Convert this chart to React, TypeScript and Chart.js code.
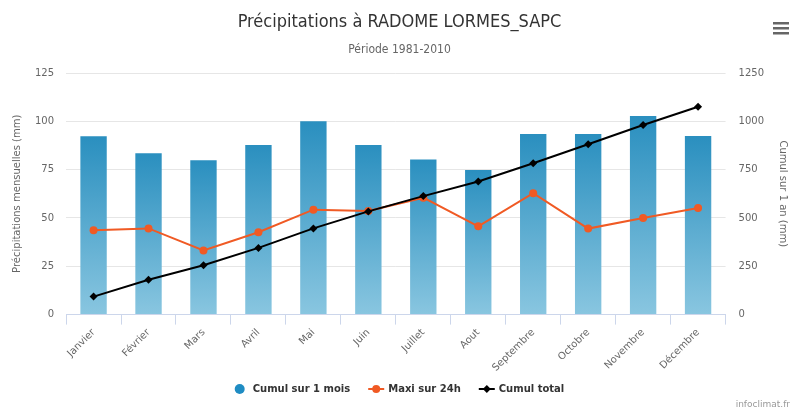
import React, { useEffect, useRef } from "react";
import { Chart, registerables } from "chart.js";

Chart.register(...registerables);

const months = ["Janvier", "Février", "Mars", "Avril", "Mai", "Juin", "Juillet", "Aout", "Septembre", "Octobre", "Novembre", "Décembre"];
const cumulMois = [92.3, 83.5, 79.9, 87.8, 100.0, 87.8, 80.3, 74.8, 93.4, 93.4, 102.8, 92.4];
const maxi24h = [43.6, 44.6, 33.2, 42.6, 54.3, 53.6, 60.5, 45.7, 62.8, 44.5, 50.0, 55.2];
const cumulTotal = [93, 180, 255, 345, 446, 534, 613, 689, 783, 881, 981, 1075];

const TITLE = "Précipitations à RADOME LORMES_SAPC";
const SUBTITLE = "Période 1981-2010";
const LEFT_TITLE = "Précipitations mensuelles (mm)";
const RIGHT_TITLE = "Cumul sur 1 an (mm)";
const CREDIT = "infoclimat.fr";

const BLUE_TOP = "#2a8fbf";
const BLUE_BOTTOM = "#89c6e0";
const ORANGE = "#f05a24";
const BLACK = "#000000";
const TICK_FONT = "'DejaVu Sans', sans-serif";
const NARROW_FONT = "'Liberation Sans Narrow', 'DejaVu Sans Condensed', sans-serif";

const extras = {
  id: "extras",
  afterDraw(chart: any) {
    const ctx = chart.ctx as CanvasRenderingContext2D;
    const W = chart.width;
    ctx.save();
    ctx.textAlign = "center";
    ctx.textBaseline = "middle";
    ctx.fillStyle = "#333333";
    ctx.font = `18px ${NARROW_FONT}`;
    ctx.fillText(TITLE, W / 2, 22);
    ctx.fillStyle = "#666666";
    ctx.font = `12px ${NARROW_FONT}`;
    ctx.fillText(SUBTITLE, W / 2, 50);

    ctx.fillStyle = "#666666";
    for (let i = 0; i < 3; i++) ctx.fillRect(773, 22 + i * 5, 16, 2.5);

    ctx.font = `9px ${TICK_FONT}`;
    ctx.fillStyle = "#999999";
    ctx.textAlign = "right";
    ctx.textBaseline = "alphabetic";
    ctx.fillText(CREDIT, 790, 407);

    const items = [
      { label: "Cumul sur 1 mois", kind: "circle", color: "#1f8cc3", symW: 10, gap: 8 },
      { label: "Maxi sur 24h", kind: "line-circle", color: ORANGE, symW: 16, gap: 4 },
      { label: "Cumul total", kind: "line-diamond", color: BLACK, symW: 16, gap: 4 },
    ];
    ctx.font = `bold 10px ${TICK_FONT}`;
    const spacing = 18;
    const widths = items.map((it) => it.symW + it.gap + ctx.measureText(it.label).width);
    const total = widths.reduce((a, b) => a + b, 0) + spacing * (items.length - 1);
    let x = W / 2 - total / 2;
    const y = 389;
    ctx.textAlign = "left";
    ctx.textBaseline = "middle";
    items.forEach((it, i) => {
      ctx.fillStyle = it.color;
      ctx.strokeStyle = it.color;
      if (it.kind === "circle") {
        ctx.beginPath();
        ctx.arc(x + it.symW / 2, y, it.symW / 2, 0, Math.PI * 2);
        ctx.fill();
      } else {
        ctx.lineWidth = 2;
        ctx.beginPath();
        ctx.moveTo(x, y);
        ctx.lineTo(x + it.symW, y);
        ctx.stroke();
        const cx = x + it.symW / 2;
        ctx.beginPath();
        if (it.kind === "line-circle") {
          ctx.arc(cx, y, 4, 0, Math.PI * 2);
        } else {
          ctx.moveTo(cx, y - 4);
          ctx.lineTo(cx + 4, y);
          ctx.lineTo(cx, y + 4);
          ctx.lineTo(cx - 4, y);
          ctx.closePath();
        }
        ctx.fill();
      }
      ctx.fillStyle = "#333333";
      ctx.fillText(it.label, x + it.symW + it.gap, y);
      x += widths[i] + spacing;
    });
    ctx.restore();
  },
};

export default function App() {
  const ref = useRef<HTMLCanvasElement | null>(null);
  useEffect(() => {
    document.body.style.margin = "0";
    const canvas = ref.current!;
    const chart = new Chart(canvas, {
      type: "bar",
      data: {
        labels: months,
        datasets: [
          {
            type: "bar",
            label: "Cumul sur 1 mois",
            data: cumulMois,
            yAxisID: "y",
            order: 3,
            categoryPercentage: 0.48,
            barPercentage: 1,
            borderWidth: 0,
            backgroundColor: (c: any) => {
              const ch = c.chart;
              if (!ch.chartArea || c.type !== "data") return BLUE_TOP;
              const ys = ch.scales.y;
              const top = ys.getPixelForValue(c.raw);
              const base = ys.getPixelForValue(0);
              const g = ch.ctx.createLinearGradient(0, top, 0, base);
              g.addColorStop(0, BLUE_TOP);
              g.addColorStop(1, BLUE_BOTTOM);
              return g;
            },
          } as any,
          {
            type: "line",
            label: "Maxi sur 24h",
            data: maxi24h,
            yAxisID: "y",
            order: 2,
            borderColor: ORANGE,
            backgroundColor: ORANGE,
            borderWidth: 2,
            pointRadius: 4,
            pointStyle: "circle",
            pointBorderWidth: 0,
            tension: 0,
          } as any,
          {
            type: "line",
            label: "Cumul total",
            data: cumulTotal,
            yAxisID: "y1",
            order: 1,
            borderColor: BLACK,
            backgroundColor: BLACK,
            borderWidth: 2,
            pointRadius: 4,
            pointStyle: "rectRot",
            pointBorderWidth: 0,
            tension: 0,
          } as any,
        ],
      },
      options: {
        animation: false,
        responsive: false,
        layout: { padding: { top: 73, left: 7, right: 6, bottom: 36 } },
        plugins: { legend: { display: false }, tooltip: { enabled: false }, title: { display: false } },
        scales: {
          x: {
            offset: true,
            grid: { offset: true, drawOnChartArea: false, drawTicks: true, tickLength: 10, color: "#ccd6eb" },
            border: { color: "#ccd6eb" },
            ticks: { maxRotation: 45, minRotation: 45, color: "#666666", font: { family: TICK_FONT, size: 10 }, padding: 2 },
          },
          y: {
            position: "left",
            min: 0,
            max: 125,
            ticks: { stepSize: 25, color: "#666666", font: { family: TICK_FONT, size: 10 }, padding: 12 },
            grid: { color: "#e6e6e6", drawTicks: false },
            border: { display: false },
            title: { display: true, text: LEFT_TITLE, color: "#666666", font: { family: TICK_FONT, size: 10 }, padding: { top: 4, bottom: 0 } },
          },
          y1: {
            position: "right",
            min: 0,
            max: 1250,
            ticks: { stepSize: 250, color: "#666666", font: { family: TICK_FONT, size: 10 }, padding: 13, callback: (v: any) => String(v) },
            grid: { drawOnChartArea: false, drawTicks: false },
            border: { display: false },
            title: { display: true, text: RIGHT_TITLE, color: "#666666", font: { family: TICK_FONT, size: 10 }, padding: { top: 4, bottom: 0 } },
          },
        },
      },
      plugins: [extras],
    } as any);
    return () => chart.destroy();
  }, []);
  return <canvas ref={ref} width={799} height={412} style={{ display: "block" }} />;
}
